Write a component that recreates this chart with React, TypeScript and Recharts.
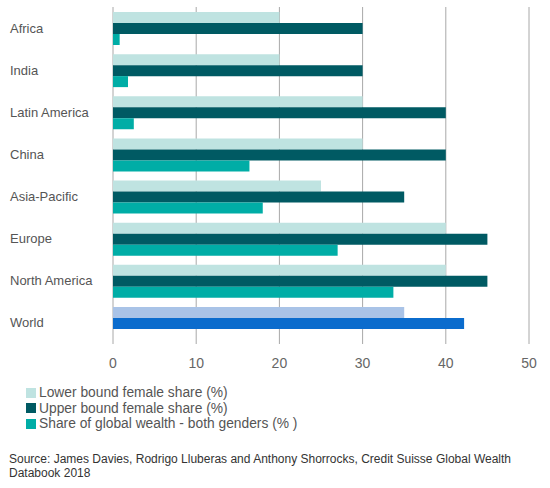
import { BarChart, Bar, XAxis, YAxis, CartesianGrid, Cell } from 'recharts'

const categories = ['Africa', 'India', 'Latin America', 'China', 'Asia-Pacific', 'Europe', 'North America', 'World']
const lowerBound = [20, 20, 30, 30, 25, 40, 40, 35]
const upperBound = [30, 30, 40, 40, 35, 45, 45, 42.2]
const wealthShare: (number | null)[] = [0.8, 1.8, 2.5, 16.4, 18, 27, 33.7, null]
const xTicks = [0, 10, 20, 30, 40, 50]

const seriesNames = [
  'Lower bound female share (%)',
  'Upper bound female share (%)',
  'Share of global wealth - both genders (% )',
]
const seriesColors = ['#bfe3e1', '#005a63', '#00ada6']
const worldColors = ['#a9c3e7', '#0b6ccd']

const data = categories.map((name, i) => ({
  name,
  lower: lowerBound[i],
  upper: upperBound[i],
  share: wealthShare[i],
}))

const font = '"Liberation Sans", Arial, sans-serif'

const CategoryTick = (props: any) => {
  const { y, payload } = props
  return (
    <text x={10} y={y} dy={4.5} textAnchor="start" fill="#555" fontSize={13} fontFamily={font}>
      {payload.value}
    </text>
  )
}

export default function App() {
  const isWorld = (name: string) => name === 'World'
  return (
    <div style={{ position: 'absolute', left: 0, top: 0, width: 550, height: 488, background: '#fff', fontFamily: font }}>
      <BarChart
        width={550}
        height={380}
        data={data}
        layout="vertical"
        margin={{ top: 7, right: 21, bottom: 6, left: 0 }}
        barCategoryGap={5}
        barGap={0}
      >
        <CartesianGrid horizontal={false} stroke="#a8a8a8" />
        <XAxis
          type="number"
          domain={[0, 50]}
          ticks={xTicks}
          axisLine={false}
          tickLine={false}
          tickMargin={8}
          height={30}
          tick={{ fill: '#666', fontSize: 14, fontFamily: font }}
        />
        <YAxis type="category" dataKey="name" width={113} axisLine={false} tickLine={false} tick={<CategoryTick />} />
        <Bar dataKey="lower" name={seriesNames[0]} fill={seriesColors[0]} isAnimationActive={false}>
          {data.map((d) => (
            <Cell key={d.name} fill={isWorld(d.name) ? worldColors[0] : seriesColors[0]} />
          ))}
        </Bar>
        <Bar dataKey="upper" name={seriesNames[1]} fill={seriesColors[1]} isAnimationActive={false}>
          {data.map((d) => (
            <Cell key={d.name} fill={isWorld(d.name) ? worldColors[1] : seriesColors[1]} />
          ))}
        </Bar>
        <Bar dataKey="share" name={seriesNames[2]} fill={seriesColors[2]} isAnimationActive={false} />
      </BarChart>

      <div style={{ position: 'absolute', left: 26, top: 385, fontSize: 13.8, lineHeight: '15.5px', color: '#555' }}>
        {seriesNames.map((s, i) => (
          <div key={s} style={{ display: 'flex', alignItems: 'center' }}>
            <span style={{ display: 'inline-block', width: 10, height: 10, background: seriesColors[i], marginRight: 3 }} />
            <span>{s}</span>
          </div>
        ))}
      </div>

      <div style={{ position: 'absolute', left: 9, top: 453, fontSize: 12, lineHeight: '13.6px', color: '#333', width: 540 }}>
        Source: James Davies, Rodrigo Lluberas and Anthony Shorrocks, Credit Suisse Global Wealth
        <br />
        Databook 2018
      </div>
    </div>
  )
}
